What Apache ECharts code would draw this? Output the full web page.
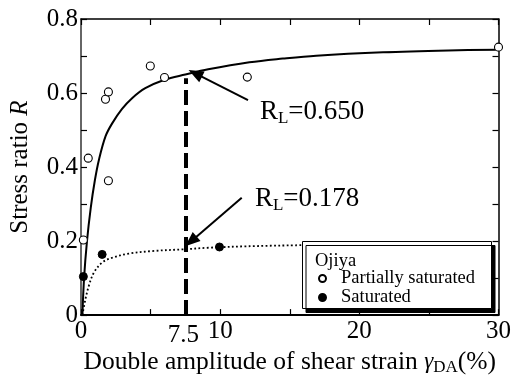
<!DOCTYPE html>
<html>
<head>
<meta charset="utf-8">
<script src="https://cdn.jsdelivr.net/npm/echarts@6/dist/echarts.min.js"></script>
<style>
  html, body { margin: 0; padding: 0; background: #fff; }
  #chart { width: 514px; height: 381px; }
</style>
</head>
<body>
<div id="chart"></div>
<script>
// Stress ratio R versus double amplitude of shear strain, Ojiya sand
const partiallySaturated = [
  [0.17, 0.203], [0.52, 0.424], [1.76, 0.583], [1.97, 0.603], [1.97, 0.363],
  [4.98, 0.673], [6.0, 0.642], [11.95, 0.643], [30, 0.724]
];
const saturated = [
  [0.17, 0.104], [1.52, 0.164], [9.95, 0.184]
];
// fitted curve for partially saturated specimens
const curvePartial = [
  [0.1, 0.0], [0.22, 0.1], [0.43, 0.2], [0.7, 0.29], [1.0, 0.365], [1.29, 0.42],
  [1.76, 0.483], [2.24, 0.518], [2.95, 0.557], [3.67, 0.586], [4.62, 0.613],
  [6.0, 0.636], [7.5, 0.650], [9.14, 0.664], [12.1, 0.683], [14.5, 0.693],
  [16.9, 0.701], [21.7, 0.710], [26.4, 0.715], [30, 0.717]
];
// fitted curve for saturated specimens
const curveSaturated = [
  [0.1, 0.0], [0.33, 0.045], [0.57, 0.08], [0.93, 0.115], [1.52, 0.142],
  [2.24, 0.155], [3.43, 0.166], [5.1, 0.173], [7.5, 0.178], [9.14, 0.182],
  [12, 0.186], [16, 0.189]
];
// liquefaction resistance read at 7.5 % strain
const strainRef = 7.5;
const RL_partial = 0.650;
const RL_saturated = 0.178;
const dashTop = 0.64;
// arrows: [tail, head]
const arrowPartial = [[12.0, 0.581], [8.21, 0.653]];
const arrowSaturated = [[11.55, 0.317], [7.9, 0.199]];
// label anchors (left edge, vertical middle)
const labelPartialAt = [12.86, 0.549];
const labelSaturatedAt = [12.5, 0.314];

const xTickLabels = [0, 10, 20, 30];
const yTickLabels = [0, 0.2, 0.4, 0.6, 0.8];

const FONT = 'Liberation Serif';

const chart = echarts.init(document.getElementById('chart'), null, { renderer: 'canvas' });

const tickStyle = { show: true, inside: true, length: 6, lineStyle: { color: '#000', width: 1.2 } };

function baseX(pos, showLabels, lineWidth) {
  return {
    type: 'value', position: pos, min: 0, max: 30, interval: 5,
    axisLine: { show: true, onZero: false, lineStyle: { color: '#000', width: lineWidth } },
    axisTick: tickStyle,
    splitLine: { show: false },
    axisLabel: {
      show: showLabels, margin: 4, color: '#000', fontFamily: FONT, fontSize: 25,
      formatter: v => (xTickLabels.indexOf(v) >= 0 ? String(v) : '')
    }
  };
}
function baseY(pos, showLabels, lineWidth, color) {
  return {
    type: 'value', position: pos, min: 0, max: 0.8, interval: 0.1,
    axisLine: { show: true, onZero: false, lineStyle: { color: color, width: lineWidth } },
    axisTick: tickStyle,
    splitLine: { show: false },
    axisLabel: {
      show: showLabels, margin: 3, color: '#000', fontFamily: FONT, fontSize: 25,
      formatter: v => {
        const r = Math.round(v * 10) / 10;
        return yTickLabels.some(t => Math.abs(t - r) < 1e-9) ? String(r) : '';
      }
    }
  };
}

const xMain = baseX('bottom', true, 2);
xMain.name = '{a|Double amplitude of shear strain }{g|γ}{s|DA}{a|(%)}';
xMain.nameLocation = 'middle';
xMain.nameGap = 30;
xMain.nameTextStyle = {
  color: '#000', fontFamily: FONT, fontSize: 25,
  rich: {
    a: { fontFamily: FONT, fontSize: 25.5, lineHeight: 28, color: '#000' },
    g: { fontFamily: FONT, fontSize: 23, fontStyle: 'italic', lineHeight: 28, color: '#000' },
    s: { fontFamily: FONT, fontSize: 17, lineHeight: 20, verticalAlign: 'bottom', color: '#000' }
  }
};
const yMain = baseY('left', true, 1.5, '#333');
yMain.name = '{a|Stress ratio }{i|R}';
yMain.nameLocation = 'middle';
yMain.nameGap = 48;
yMain.nameTextStyle = {
  color: '#000', fontFamily: FONT, fontSize: 25,
  rich: {
    a: { fontFamily: FONT, fontSize: 25, color: '#000' },
    i: { fontFamily: FONT, fontSize: 25, fontStyle: 'italic', color: '#000' }
  }
};

const option = {
  animation: false,
  backgroundColor: '#fff',
  textStyle: { fontFamily: FONT },
  grid: { left: 80, right: 14, top: 19, bottom: 57, containLabel: false },
  xAxis: [xMain, baseX('top', false, 1.5)],
  yAxis: [yMain, baseY('right', false, 1.5, '#000')],
  legend: {
    z: 20,
    orient: 'vertical',
    left: 318, top: 269,
    padding: 0, itemGap: 0,
    itemWidth: 27, itemHeight: 7,
    textStyle: { fontFamily: FONT, fontSize: 18.5, color: '#000' },
    data: ['Partially saturated', 'Saturated']
  },
  series: [
    {
      name: 'fit-partial', type: 'line', data: curvePartial, smooth: 0.35,
      showSymbol: false, silent: true, z: 3,
      lineStyle: { color: '#000', width: 2 },
      markLine: {
        silent: true, animation: false,
        symbol: ['none', 'triangle'], symbolSize: [12, 15],
        label: { show: false },
        lineStyle: { color: '#000', width: 2, type: 'solid' },
        data: [
          [{ coord: arrowPartial[0] }, { coord: arrowPartial[1] }],
          [{ coord: arrowSaturated[0] }, { coord: arrowSaturated[1] }],
          [
            { coord: [strainRef, 0], symbol: 'none', lineStyle: { width: 4, type: [15, 6], color: '#000' } },
            { coord: [strainRef, dashTop], symbol: 'none' }
          ]
        ]
      }
    },
    {
      name: 'fit-saturated', type: 'line', data: curveSaturated, smooth: 0.35,
      showSymbol: false, silent: true, z: 3,
      lineStyle: { color: '#000', width: 1.8, type: [1.8, 2.4] }
    },
    {
      name: 'Partially saturated', type: 'scatter', data: partiallySaturated,
      symbol: 'circle', symbolSize: 8, z: 5, clip: false,
      itemStyle: { color: '#fff', borderColor: '#000', borderWidth: 1.1, opacity: 1 }
    },
    {
      name: 'Saturated', type: 'scatter', data: saturated,
      symbol: 'circle', symbolSize: 8, z: 5, clip: false,
      itemStyle: { color: '#000', borderColor: '#000', borderWidth: 1, opacity: 1 }
    }
  ]
};

chart.setOption(option);

// annotation texts placed from data coordinates
const px = p => chart.convertToPixel({ xAxisIndex: 0, yAxisIndex: 0 }, p);
const pRef = px([strainRef, 0]);
const pLab1 = px(labelPartialAt);
const pLab2 = px(labelSaturatedAt);

const rlRich = {
  r: { fontFamily: FONT, fontSize: 27, lineHeight: 30, fill: '#000' },
  s: { fontFamily: FONT, fontSize: 17, lineHeight: 19, verticalAlign: 'bottom', fill: '#000' }
};

chart.setOption({
  graphic: [
    {
      type: 'text', z: 6, x: pRef[0] - 2, y: pRef[1] + 8,
      style: { text: String(strainRef), fontFamily: FONT, fontSize: 25, fill: '#000', align: 'center', verticalAlign: 'top' }
    },
    {
      type: 'text', z: 6, x: pLab1[0], y: pLab1[1],
      style: { text: '{r|R}{s|L}{r|=' + RL_partial.toFixed(3) + '}', fontFamily: FONT, fontSize: 27, rich: rlRich, align: 'left', verticalAlign: 'middle' }
    },
    {
      type: 'text', z: 6, x: pLab2[0], y: pLab2[1],
      style: { text: '{r|R}{s|L}{r|=' + RL_saturated.toFixed(3) + '}', fontFamily: FONT, fontSize: 27, rich: rlRich, align: 'left', verticalAlign: 'middle' }
    },
    {
      type: 'rect', z: 10,
      shape: { x: 302.5, y: 241.5, width: 189, height: 67 },
      style: { fill: '#fff', stroke: '#000', lineWidth: 1, shadowColor: '#000', shadowOffsetX: 3.5, shadowOffsetY: 4, shadowBlur: 0 }
    },
    {
      type: 'text', z: 11, x: 315, y: 261,
      style: { text: 'Ojiya', fontFamily: FONT, fontSize: 18.5, fill: '#000', align: 'left', verticalAlign: 'middle' }
    }
  ]
});
</script>
</body>
</html>
